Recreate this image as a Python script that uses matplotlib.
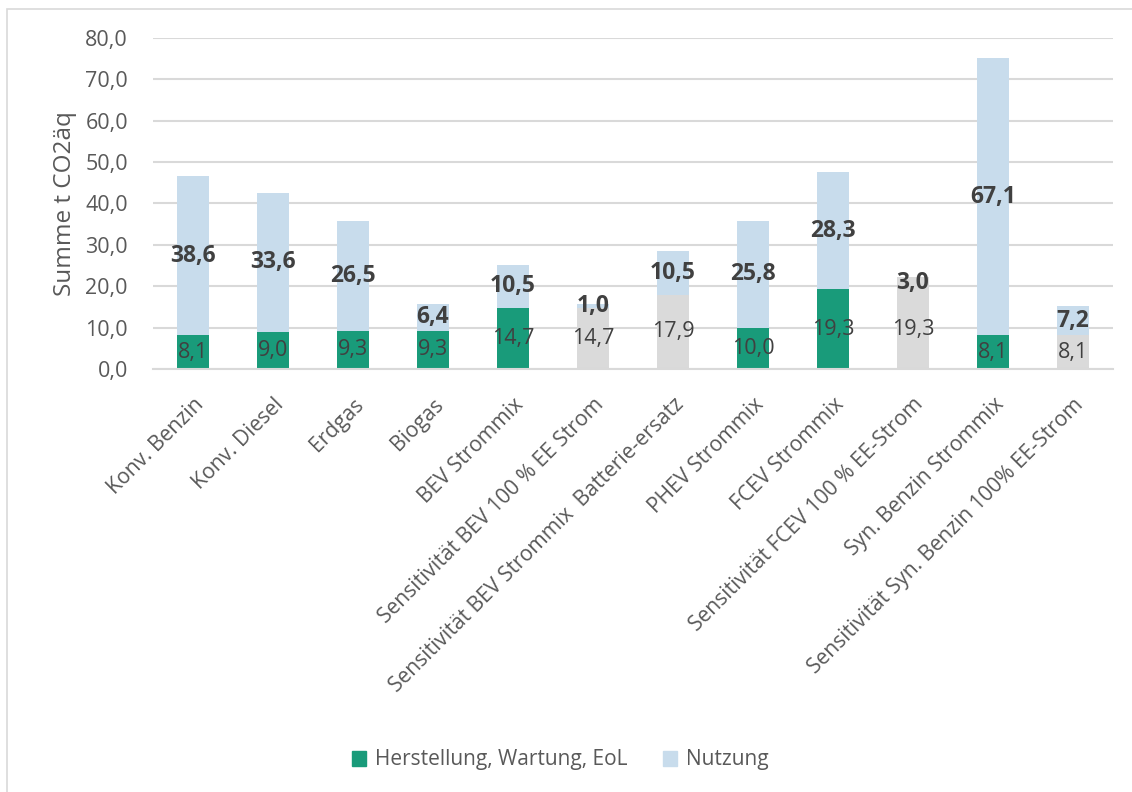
import matplotlib
matplotlib.use("Agg")
import matplotlib.pyplot as plt
from matplotlib.patches import Rectangle, Patch

plt.rcParams['font.family'] = ['Open Sans', 'DejaVu Sans']

categories = ["Konv. Benzin", "Konv. Diesel", "Erdgas", "Biogas", "BEV Strommix",
              "Sensitivität BEV 100 % EE Strom", "Sensitivität BEV Strommix  Batterie-ersatz",
              "PHEV Strommix", "FCEV Strommix", "Sensitivität FCEV 100 % EE-Strom",
              "Syn. Benzin Strommix", "Sensitivität Syn. Benzin 100% EE-Strom"]
herstellung = [8.1, 9.0, 9.3, 9.3, 14.7, 14.7, 17.9, 10.0, 19.3, 19.3, 8.1, 8.1]
nutzung = [38.6, 33.6, 26.5, 6.4, 10.5, 1.0, 10.5, 25.8, 28.3, 3.0, 67.1, 7.2]
sensitivity = [False, False, False, False, False, True, True, False, False, True, False, True]
top_gray = [False]*9 + [True, False, False]
yticks = [0, 10, 20, 30, 40, 50, 60, 70, 80]

GREEN = "#199B7A"
BLUE = "#C8DCEC"
GRAY = "#DADADA"
TXT = "#404040"
AX = "#595959"

fig = plt.figure(figsize=(11.32, 7.92), dpi=100)
fig.patches.append(Rectangle((7/1132, -0.1), 1.2, 1 - 9/792 + 0.1, transform=fig.transFigure,
                             fill=False, edgecolor="#D9D9D9", linewidth=1.2))
ax = fig.add_axes([153/1132, 1 - 369/792, (1113 - 153)/1132, (369 - 38)/792])

x = list(range(len(categories)))
bot_colors = [GRAY if s else GREEN for s in sensitivity]
top_colors = [GRAY if g else BLUE for g in top_gray]
w = 0.4
ax.bar(x, herstellung, width=w, color=bot_colors, zorder=2)
ax.bar(x, nutzung, width=w, bottom=herstellung, color=top_colors, zorder=2)

for i in x:
    ax.text(i, herstellung[i] / 2, f"{herstellung[i]:.1f}".replace(".", ","),
            ha="center", va="center", fontsize=15.5, color=TXT, zorder=3)
    ax.text(i, herstellung[i] + nutzung[i] / 2, f"{nutzung[i]:.1f}".replace(".", ","),
            ha="center", va="center", fontsize=16.5, fontweight="bold", color=TXT, zorder=3)

ax.set_xlim(-0.5, len(categories) - 0.5)
ax.set_ylim(0, 80)
ax.set_yticks(yticks)
ax.set_yticklabels([f"{v:.1f}".replace(".", ",") for v in yticks], fontsize=15.5, color=AX)
ax.yaxis.grid(True, color="#D9D9D9", linewidth=1.5, zorder=0)
ax.set_axisbelow(True)
for s in ["top", "right", "left"]:
    ax.spines[s].set_visible(False)
ax.spines["bottom"].set_color("#D9D9D9")
ax.spines["bottom"].set_linewidth(1.5)
ax.tick_params(axis="both", length=0)
ax.tick_params(axis="y", pad=18)
ax.set_xticks(x)
ax.set_xticklabels(categories, rotation=45, ha="right", rotation_mode="anchor",
                   fontsize=15.2, color=AX)
ax.tick_params(axis="x", pad=18)
ax.set_ylabel("Summe t CO2äq", fontsize=17.5, color=AX, labelpad=6)

handles = [Patch(color=GREEN, label="Herstellung, Wartung, EoL"),
           Patch(color=BLUE, label="Nutzung")]
fig.legend(handles=handles, loc="center", bbox_to_anchor=(560/1132, 1 - 760/792), ncol=2,
           frameon=False, fontsize=15, labelcolor=AX, handlelength=0.7, handleheight=0.7,
           handletextpad=0.4, columnspacing=1.7)

fig.savefig("out.png", dpi=100)
